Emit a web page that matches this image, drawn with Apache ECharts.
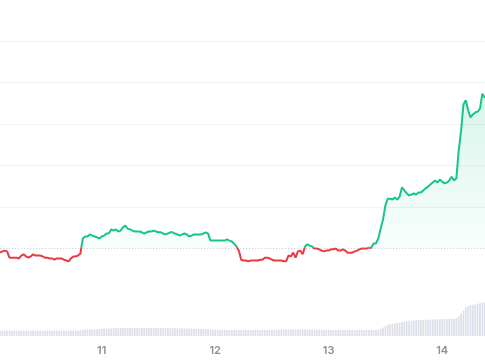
<!DOCTYPE html>
<html><head><meta charset="utf-8">
<script src="https://cdn.jsdelivr.net/npm/echarts@6/dist/echarts.min.js"></script>
<style>html,body{margin:0;padding:0;background:#fff}#c{width:485px;height:360px}</style>
</head><body><div id="c"></div>
<script>
// Day-of-month tick labels
const dayTicks = [11, 12, 13, 14];
// Sampling: starts day 10, 02:30, every 30 minutes
const startDay = 10;
const startHour = 2.5;
const stepHours = 0.5;
// Reference (opening) price shown by the dotted line
const baseline = 100;

// Price samples
const price = [
  99.0, 99.3, 99.5, 99.3, 97.8, 97.8, 97.8, 97.8, 97.6, 98.3,
  98.6, 98.1, 97.8, 98.1, 98.6, 98.3, 98.3, 98.3, 98.1, 97.8,
  97.8, 97.6, 97.6, 97.3, 97.6, 97.6, 97.6, 97.3, 97.1, 96.9,
  97.6, 98.1, 98.1, 98.3, 98.8, 102.4, 102.9, 102.9, 103.4, 103.1,
  102.9, 102.7, 102.4, 102.9, 103.1, 103.6, 103.6, 104.6, 104.3, 104.6,
  104.1, 104.3, 105.1, 105.5, 104.8, 104.6, 104.3, 104.1, 104.1, 104.1,
  103.9, 103.6, 103.9, 104.1, 104.1, 104.3, 104.1, 103.9, 103.9, 103.6,
  103.4, 103.6, 103.9, 103.9, 103.6, 103.4, 103.1, 103.4, 103.6, 103.4,
  102.9, 103.1, 103.4, 103.4, 103.4, 103.4, 103.6, 103.9, 103.6, 101.9,
  101.9, 101.9, 101.9, 101.9, 101.9, 101.9, 102.2, 101.9, 101.7, 101.2,
  100.5, 99.5, 97.3, 97.1, 97.1, 96.9, 97.1, 97.1, 97.1, 97.1,
  97.3, 97.3, 97.8, 97.8, 97.6, 97.3, 97.1, 97.1, 97.1, 97.1,
  96.9, 96.9, 98.3, 98.1, 99.0, 97.8, 99.3, 99.5, 98.6, 100.5,
  101.0, 100.7, 100.5, 100.0, 100.0, 99.8, 99.5, 99.3, 99.5, 99.5,
  99.8, 99.8, 100.0, 99.5, 99.5, 99.8, 99.5, 99.0, 99.0, 99.0,
  99.3, 99.5, 99.8, 100.0, 100.0, 100.0, 100.2, 100.2, 101.2, 101.2,
  102.4, 104.8, 107.0, 110.4, 112.0, 112.0, 111.8, 112.3, 111.8, 112.5,
  114.7, 114.0, 113.3, 112.8, 113.0, 113.3, 113.0, 113.5, 113.5, 114.0,
  114.5, 114.9, 115.4, 115.9, 116.4, 115.9, 116.6, 116.1, 115.7, 115.9,
  116.4, 117.3, 116.4, 116.9, 123.6, 128.4, 134.7, 135.7, 133.3, 131.6,
  132.3, 132.8, 133.0, 133.7, 137.3, 136.4, 136.6
];

// Volume samples
const volume = [
  5.2, 5.3, 5.3, 5.2, 5.4, 5.3, 5.3, 5.2, 5.3, 5.4,
  5.3, 5.3, 5.2, 5.3, 5.4, 5.4, 5.3, 5.3, 5.2, 5.3,
  5.3, 5.4, 5.4, 5.3, 5.3, 5.2, 5.3, 5.3, 5.3, 5.4,
  5.4, 5.3, 5.3, 5.4, 5.8, 6.2, 6.5, 6.7, 6.6, 6.8,
  6.9, 7.0, 7.1, 7.3, 7.4, 7.5, 7.6, 7.6, 7.7, 7.8,
  7.9, 7.9, 8.0, 8.0, 7.9, 8.0, 8.1, 8.0, 7.9, 8.0,
  8.1, 8.1, 8.0, 7.9, 7.9, 8.0, 8.1, 8.0, 7.8, 7.9,
  7.9, 8.0, 7.9, 7.8, 7.8, 7.7, 7.8, 7.6, 7.6, 7.5,
  7.4, 7.4, 7.3, 7.2, 7.1, 7.0, 6.9, 6.8, 6.7, 6.6,
  6.5, 6.4, 6.3, 6.2, 6.2, 6.1, 6.1, 6.0, 6.0, 6.0,
  5.9, 5.9, 5.9, 5.9, 6.0, 6.0, 5.9, 6.0, 6.0, 6.1,
  6.0, 6.0, 6.1, 6.1, 6.0, 6.1, 6.2, 6.2, 6.3, 6.3,
  6.4, 6.5, 6.5, 6.6, 6.6, 6.7, 6.6, 6.6, 6.5, 6.5,
  6.4, 6.4, 6.3, 6.3, 6.3, 6.2, 6.2, 6.2, 6.1, 6.1,
  6.1, 6.1, 6.0, 6.0, 6.0, 6.0, 6.0, 5.9, 5.9, 5.9,
  5.9, 5.9, 5.9, 6.0, 6.0, 6.0, 6.0, 6.1, 6.1, 6.2,
  6.4, 7.0, 8.5, 10.0, 11.0, 12.0, 12.3, 12.6, 13.0, 13.3,
  13.8, 14.5, 15.0, 15.3, 15.5, 15.6, 15.8, 15.9, 16.0, 16.1,
  16.2, 16.3, 16.4, 16.5, 16.6, 16.7, 16.8, 16.9, 17.0, 17.0,
  17.1, 17.2, 17.3, 17.6, 19.5, 22.5, 25.5, 28.5, 30.0, 30.8,
  31.3, 31.8, 32.3, 32.8, 33.2, 33.6, 34.0
];

const times = price.map((_, i) => startDay + (startHour + i * stepHours) / 24);
const priceData = price.map((v, i) => [times[i], v]);
const areaData = price.map((v, i) => [times[i], Math.max(v, baseline)]);
const volData = volume.map((v, i) => [times[i], v]);

const GREEN = '#16c784';
const RED = '#ea3943';

const chart = echarts.init(document.getElementById('c'), null, { renderer: 'canvas' });
const xCommon = {
  type: 'value', min: 10, max: 14.5, interval: 1,
  axisLine: { show: false }, axisTick: { show: false }, splitLine: { show: false }
};
chart.setOption({
  animation: false,
  backgroundColor: '#ffffff',
  grid: [
    { left: -11.8, right: -13.9, top: -0.5, bottom: 28.5, containLabel: false, outerBoundsMode: 'none' },
    { left: -11.8, right: -13.9, top: 236, bottom: 24, containLabel: false, outerBoundsMode: 'none' }
  ],
  xAxis: [
    Object.assign({ gridIndex: 0, axisLabel: { show: false } }, xCommon),
    Object.assign({ gridIndex: 1, axisLabel: {
      show: true, margin: 9, color: '#8a8f9c', fontSize: 11, fontWeight: 600,
      fontFamily: 'Inter, Roboto, sans-serif',
      formatter: v => dayTicks.includes(v) ? String(v) : ''
    } }, xCommon)
  ],
  yAxis: [
    { type: 'value', gridIndex: 0, min: 80, max: 160, interval: 10,
      axisLine: { show: false }, axisTick: { show: false }, axisLabel: { show: false },
      splitLine: { show: true, lineStyle: { width: 1,
        color: ['rgba(0,0,0,0)', 'rgba(0,0,0,0)', 'rgba(0,0,0,0)', '#f1f2f4', '#f1f2f4', '#f1f2f4', '#f1f2f4', '#f1f2f4', 'rgba(0,0,0,0)'] } } },
    { type: 'value', gridIndex: 1, min: 0, max: 100,
      axisLine: { show: false }, axisTick: { show: false }, axisLabel: { show: false },
      splitLine: { show: false } }
  ],
  visualMap: {
    show: false, type: 'piecewise', seriesIndex: 0, dimension: 1,
    pieces: [{ gt: -1000, lte: baseline, color: RED }, { gt: baseline, lte: 1000, color: GREEN }]
  },
  series: [
    {
      name: 'Price', type: 'line', xAxisIndex: 0, yAxisIndex: 0, data: priceData,
      showSymbol: false, symbol: 'none', z: 5,
      lineStyle: { width: 2 },
      markLine: {
        silent: true, symbol: 'none', label: { show: false },
        lineStyle: { type: [1, 2], color: '#c5c9d1', width: 1 },
        data: [{ yAxis: baseline }]
      }
    },
    {
      name: 'area', type: 'line', xAxisIndex: 0, yAxisIndex: 0,
      data: areaData, symbol: 'none', silent: true, lineStyle: { width: 0, opacity: 0 }, z: 1,
      areaStyle: { origin: 'start', color: 'rgba(0,0,0,0)' }
    },
    {
      name: 'Volume', type: 'bar', xAxisIndex: 1, yAxisIndex: 1, data: volData,
      barWidth: '72%', itemStyle: { color: '#dde0ea' }, silent: true
    }
  ]
});

// Fill only between the line and the baseline: a gradient in chart pixels that ends at the baseline.
const yBase = chart.convertToPixel({ gridIndex: 0 }, [startDay, baseline])[1];
const yTop = chart.convertToPixel({ gridIndex: 0 }, [startDay, Math.max.apply(null, price)])[1];
chart.setOption({
  series: [{}, {
    areaStyle: {
      color: new echarts.graphic.LinearGradient(0, yTop, 0, yBase, [
        { offset: 0, color: 'rgba(22,199,132,0.24)' },
        { offset: 0.995, color: 'rgba(22,199,132,0.04)' },
        { offset: 1, color: 'rgba(22,199,132,0)' }
      ], true)
    }
  }, {}]
});
</script>
</body></html>
